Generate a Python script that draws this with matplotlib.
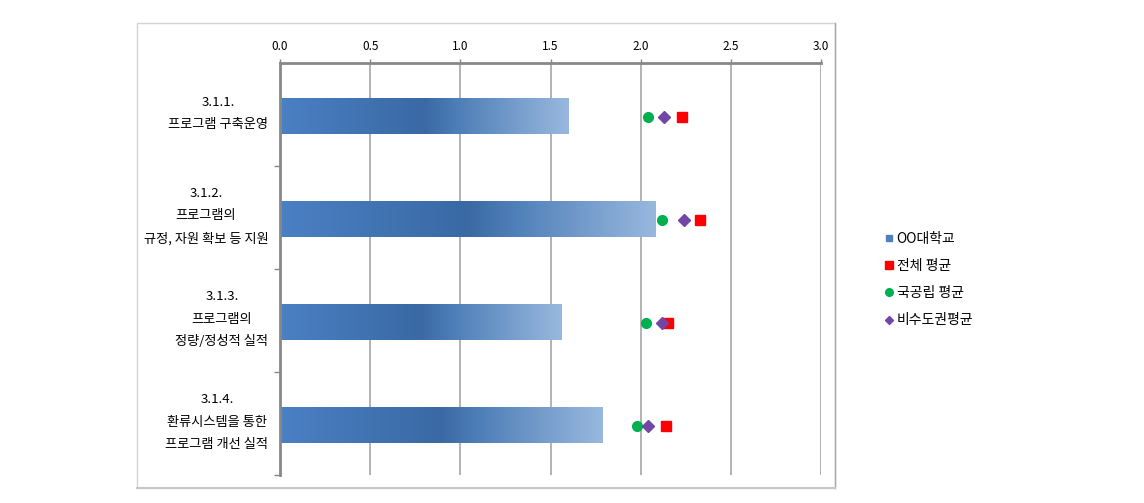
import matplotlib.pyplot as plt
import numpy as np
from matplotlib.colors import LinearSegmentedColormap
from matplotlib.lines import Line2D
from matplotlib.patches import Rectangle

plt.rcParams['font.family'] = ['Noto Sans CJK KR', 'DejaVu Sans']

# data
categories = ['3.1.1.\n프로그램 구축운영',
              '3.1.2.\n프로그램의\n규정, 자원 확보 등 지원',
              '3.1.3.\n프로그램의\n정량/정성적 실적',
              '3.1.4.\n환류시스템을 통한\n프로그램 개선 실적']
school = [1.60, 2.08, 1.56, 1.79]
total_avg = [2.23, 2.33, 2.15, 2.14]
national_avg = [2.04, 2.12, 2.03, 1.98]
nonmetro_avg = [2.13, 2.24, 2.12, 2.04]
series_names = ['OO대학교', '전체 평균', '국공립 평균', '비수도권평균']

fig = plt.figure(figsize=(11.44, 5.03), dpi=100)
ax = fig.add_axes([0.2448, 0.0557, 0.4729, 0.8191])

# gradient fill for the bars
grad = LinearSegmentedColormap.from_list(
    'bar', [(0, '#4a80c4'), (0.5, '#3a69a4'), (0.62, '#4f7fb8'), (1, '#98b8de')])
gimg = np.linspace(0, 1, 256).reshape(1, -1)
bar_h = 0.34
y = np.arange(len(categories))
for yi, v in zip(y, school):
    ax.imshow(gimg, cmap=grad, aspect='auto', interpolation='bicubic',
              extent=[0, v, yi + 0.02 + bar_h / 2, yi + 0.02 - bar_h / 2], zorder=2)

ax.plot(total_avg, y + 0.02, 's', color='#ff0000', ms=7, ls='none', zorder=4)
ax.plot(national_avg, y + 0.02, 'o', color='#00b050', ms=7, ls='none', zorder=4)
ax.plot(nonmetro_avg, y + 0.02, 'D', color='#7346a6', ms=6, ls='none', zorder=4)

ax.set_xlim(0, 3.0)
ax.set_ylim(3.5, -0.5)
ax.set_xticks(np.arange(0, 3.01, 0.5))
ax.set_xticklabels([f'{t:.1f}' for t in np.arange(0, 3.01, 0.5)])
ax.xaxis.tick_top()
ax.tick_params(axis='x', length=3, width=1, color='#888888', pad=4,
               labelsize=8.5)
ax.grid(axis='x', color='#a6a6a6', lw=1.2, zorder=1)
ax.set_axisbelow(True)

ax.set_yticks([0.5, 1.5, 2.5, 3.5])
ax.set_yticklabels([])
ax.tick_params(axis='y', length=4, width=1, color='#888888')
for yi, lab in zip(y, categories):
    ax.text(-0.065, yi - 0.01, lab, ha='right', va='center', fontsize=9.5,
            multialignment='center', linespacing=1.95,
            transform=ax.transData)

for s in ['right', 'bottom']:
    ax.spines[s].set_visible(False)
for s in ['left', 'top']:
    ax.spines[s].set_color('#888888')
    ax.spines[s].set_linewidth(2)

# chart border
fig.patches.append(Rectangle((0.1198, 0.0298), 0.6101, 0.9245, transform=fig.transFigure,
                             fill=False, edgecolor='#d4d4d4', lw=1))
fig.add_artist(Line2D([0.7299, 0.7299], [0.0298, 0.954], transform=fig.transFigure,
                      color='#a8a8a8', lw=1))
fig.add_artist(Line2D([0.1198, 0.7299], [0.0298, 0.0298], transform=fig.transFigure,
                      color='#c8c8c8', lw=1.5))

handles = [Line2D([], [], marker='s', color='#4f81bd', ls='none', ms=4.5),
           Line2D([], [], marker='s', color='#ff0000', ls='none', ms=6),
           Line2D([], [], marker='o', color='#00b050', ls='none', ms=5.5),
           Line2D([], [], marker='D', color='#7346a6', ls='none', ms=4.5)]
fig.legend(handles, series_names, loc='upper left', bbox_to_anchor=(0.768, 0.553),
           frameon=False, fontsize=10, handlelength=0.5, handletextpad=0.3,
           labelspacing=0.95, borderpad=0)

fig.savefig('out.png', dpi=100)
